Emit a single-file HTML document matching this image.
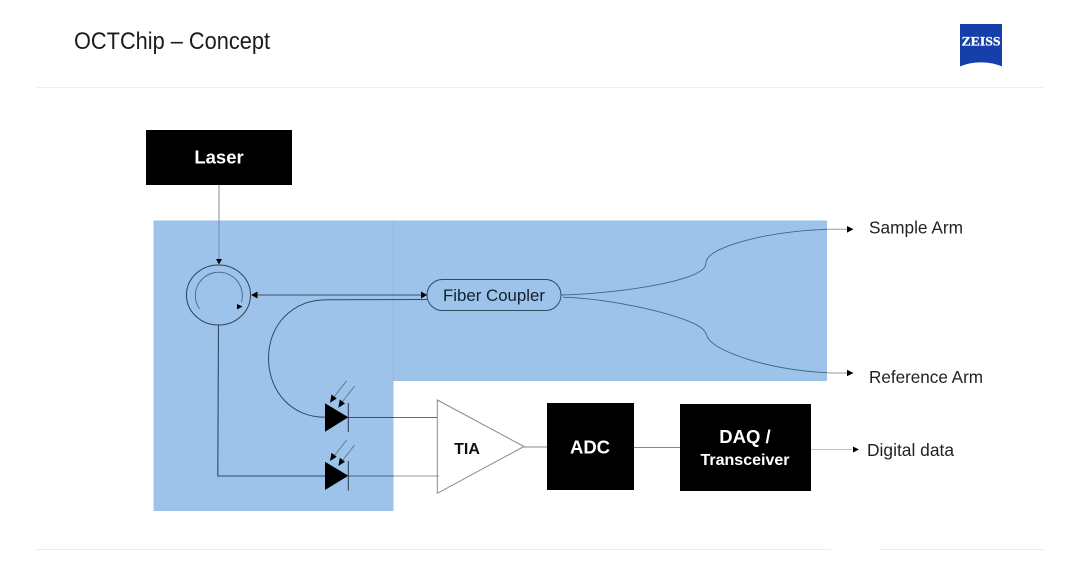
<!DOCTYPE html>
<html>
<head>
<meta charset="utf-8">
<style>
html,body{margin:0;padding:0;background:#fff;width:1080px;height:568px;overflow:hidden}
svg{display:block}
text{font-family:"Liberation Sans",sans-serif}
</style>
</head>
<body>
<svg width="1080" height="568" viewBox="0 0 1080 568" xmlns="http://www.w3.org/2000/svg">
<rect width="1080" height="568" fill="#fff"/>

<text x="74" y="49" font-size="24" fill="#1c1c1c" textLength="196" lengthAdjust="spacingAndGlyphs">OCTChip – Concept</text>

<path d="M960 24H1002V66.500C990 61 972 61 960 66.500Z" fill="#1540aa"/>
<text x="981" y="45.500" text-anchor="middle" font-size="13" font-weight="bold" fill="#fff" stroke="#fff" stroke-width="0.300" style="font-family:'Liberation Serif',serif" textLength="39" lengthAdjust="spacingAndGlyphs">ZEISS</text>

<line x1="36" y1="87.500" x2="1044" y2="87.500" stroke="#efefef" stroke-width="1"/>
<path d="M36 549.500H831M879 549.500H1044" stroke="#ececec" stroke-width="1" fill="none"/>

<path d="M153.500 220.500H827V381H393.500V511H153.500Z" fill="#9dc3ea"/>
<line x1="393.500" y1="220.500" x2="393.500" y2="381" stroke="#93b9e0" stroke-width="1"/>

<rect x="146" y="130" width="146" height="55" fill="#000"/>
<text x="219" y="163.500" text-anchor="middle" font-size="18.500" font-weight="bold" fill="#fff">Laser</text>

<g fill="none" stroke-linecap="butt">
<line x1="219" y1="185" x2="219" y2="260" stroke="#7d8b9a" stroke-width="1"/>
<ellipse cx="218.500" cy="295" rx="32" ry="30" stroke="#2b4257" stroke-width="1"/>
<path d="M199.500 309A23.500 23.500 0 1 1 241.500 302" stroke="#4a6580" stroke-width="0.900"/>
<line x1="255" y1="295" x2="423" y2="295" stroke="#4f6a83" stroke-width="1.200"/>
<path d="M427 299.500L326.500 299.700C291 300 268.500 326 268.500 358C268.500 392 292 417.300 325 417.300" stroke="#2f4a63" stroke-width="1"/>
<path d="M218.500 325L217.800 476H326" stroke="#2f4a63" stroke-width="1.100"/>
<line x1="348" y1="417.500" x2="393.500" y2="417.500" stroke="#3f5266" stroke-width="1"/>
<line x1="393.500" y1="417.500" x2="437" y2="417.500" stroke="#6a6a6a" stroke-width="1"/>
<line x1="348" y1="476" x2="393.500" y2="476" stroke="#4f6172" stroke-width="1"/>
<line x1="393.500" y1="476" x2="439" y2="476" stroke="#999" stroke-width="1"/>

<path d="M560.700 295C610 294 695 283 705 266.700C706.500 263 705.500 262 706.700 260C712 246 770 231 827 229.300" stroke="#446486" stroke-width="0.900"/>
<path d="M563 297.300C610 298 690 316 703 329.300C706 332 706 334 707.300 336.700C714 352 770 370 827 372.700" stroke="#446486" stroke-width="0.900"/>
<path d="M827 229.300H848M827 373H848" stroke="#9a9a9a" stroke-width="1"/>

<rect x="427" y="279.500" width="134" height="31" rx="15.500" ry="15.500" stroke="#2f4a63" stroke-width="1"/>

<path d="M346.700 380.700L332.500 399M354.700 386L340.500 404" stroke="#5d7487" stroke-width="0.900"/>
<path d="M346.700 440L332.500 458M354.700 445L340.500 463" stroke="#5d7487" stroke-width="0.900"/>
<line x1="348.300" y1="403" x2="348.300" y2="432" stroke="#25384a" stroke-width="1"/>
<line x1="348.300" y1="461" x2="348.300" y2="490.500" stroke="#25384a" stroke-width="1"/>

<path d="M437.300 400L524 446.500L437.300 493.300Z" stroke="#8a8a8a" stroke-width="1"/>
<line x1="524" y1="447" x2="547" y2="447" stroke="#8a8a8a" stroke-width="1"/>
<line x1="634" y1="447.500" x2="680" y2="447.500" stroke="#8a8a8a" stroke-width="1"/>
<line x1="811" y1="449.500" x2="852" y2="449.500" stroke="#c4c4c4" stroke-width="1"/>
</g>

<g fill="#000">
<path d="M219 264.500L216 259H222Z"/>
<path d="M251 295L257.500 291.500V298.500Z"/>
<path d="M427 295L421 291.500V298.500Z"/>
<path d="M242.500 306.500L237 304V309.500Z"/>
<path d="M853.500 229.300L847 226V232.600Z"/>
<path d="M853.500 373L847 369.700V376.300Z"/>
<path d="M859 449.500L853 446.500V452.500Z"/>

<path d="M325 403.300L348.300 417.300L325 431.700Z"/>
<path d="M325 461.700L348.300 475.700L325 490Z"/>

<path d="M330 402.700L331.500 394.500L336.700 398.500Z"/>
<path d="M338.300 407.700L339.800 399.500L345 403.500Z"/>
<path d="M330 461L331.500 452.800L336.700 456.800Z"/>
<path d="M338.300 466L339.800 457.800L345 461.800Z"/>

<rect x="547" y="403" width="87" height="87"/>
<rect x="680" y="404" width="131" height="87"/>
</g>

<text x="494" y="301" text-anchor="middle" font-size="16.500" fill="#10202f" textLength="102" lengthAdjust="spacingAndGlyphs">Fiber Coupler</text>
<text x="467" y="454" text-anchor="middle" font-size="16" font-weight="bold" fill="#111">TIA</text>
<text x="590" y="453.500" text-anchor="middle" font-size="18.500" font-weight="bold" fill="#fff">ADC</text>
<text x="745" y="443" text-anchor="middle" font-size="18.500" font-weight="bold" fill="#fff">DAQ /</text>
<text x="745" y="465" text-anchor="middle" font-size="16" font-weight="bold" fill="#fff" textLength="89" lengthAdjust="spacingAndGlyphs">Transceiver</text>

<text x="869" y="233.500" font-size="17.500" fill="#222" textLength="94" lengthAdjust="spacingAndGlyphs">Sample Arm</text>
<text x="869" y="383" font-size="17.500" fill="#222" textLength="114" lengthAdjust="spacingAndGlyphs">Reference Arm</text>
<text x="867" y="456" font-size="17.500" fill="#222" textLength="87" lengthAdjust="spacingAndGlyphs">Digital data</text>
</svg>
</body>
</html>
